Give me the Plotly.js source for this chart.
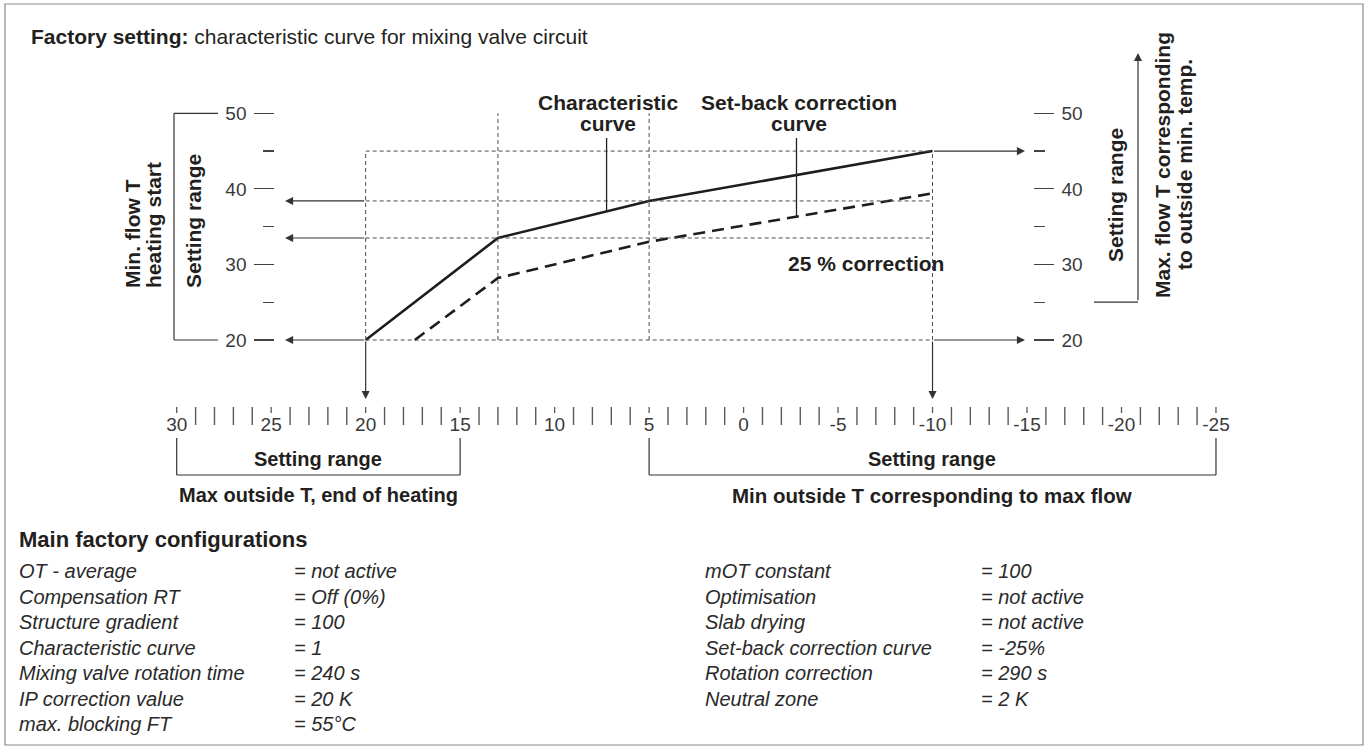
<!DOCTYPE html>
<html><head><meta charset="utf-8">
<script src="https://cdn.plot.ly/plotly-3.0.1.min.js"></script>
<style>html,body{margin:0;padding:0;background:#fff;}#chart{width:1369px;height:746px;}</style>
</head><body><div id="chart"></div>
<script>
// ---------------- data ----------------
const outsideTemp = [20, 13, 5, -10];              // characteristic curve break points (outside T)
const flowCharacteristic = [20, 33.5, 38.4, 45];    // flow T of characteristic curve
const outsideTempSetback = [17.4, 13, 5, -10];
const flowSetback = [20, 28.2, 33.0, 39.4];         // set-back correction curve (25 %)
const flowTicks = [20, 30, 40, 50];
const flowTickLabels = ['20', '30', '40', '50'];
const flowMinorTicks = [25, 35, 45];
const rulerTicks = [30, 25, 20, 15, 10, 5, 0, -5, -10, -15, -20, -25];
const rulerTickLabels = ['30', '25', '20', '15', '10', '5', '0', '-5', '-10', '-15', '-20', '-25'];
const maxOutsideRange = [30, 15];
const minOutsideRange = [5, -25];
const minFlowRange = [20, 50];
const maxFlowRangeStart = 25;
const charPointerT = 7.25;
const setbackPointerT = -2.8;
const configLeftLabels = ['OT - average', 'Compensation RT', 'Structure gradient', 'Characteristic curve', 'Mixing valve rotation time', 'IP correction value', 'max. blocking FT'];
const configLeftValues = ['= not active', '= Off (0%)', '= 100', '= 1', '= 240 s', '= 20 K', '= 55°C'];
const configRightLabels = ['mOT constant', 'Optimisation', 'Slab drying', 'Set-back correction curve', 'Rotation correction', 'Neutral zone'];
const configRightValues = ['= 100', '= not active', '= not active', '= -25%', '= 290 s', '= 2 K'];

// ---------------- layout geometry (pixels) ----------------
const W = 1369, H = 746;
const L = 150, R = 1240, TOP = 20, BOT = 407;
const X30 = 176.7, PXDEG = 18.896;      // ruler scale
const Y20 = 340, PYDEG = 7.557;          // flow scale
const xr0 = 30 + (X30 - L) / PXDEG;
const xr1 = 30 - (R - X30) / PXDEG;
const yr0 = 20 - (BOT - Y20) / PYDEG;
const yr1 = 20 + (Y20 - TOP) / PYDEG;
const px = X => (X - L) / (R - L);
const py = Y => (BOT - Y) / (BOT - TOP);
const tAt = X => xr0 + (X - L) * (xr1 - xr0) / (R - L);
const fAt = Y => yr1 - (Y - TOP) * (yr1 - yr0) / (BOT - TOP);

const FONT = 'Liberation Sans, Arial, Helvetica, sans-serif';
const INK = '#231f20';

function interp(xs, ys, x) {
  for (let i = 0; i < xs.length - 1; i++) {
    const a = xs[i], b = xs[i + 1];
    if ((x <= a && x >= b) || (x >= a && x <= b)) {
      return ys[i] + (ys[i + 1] - ys[i]) * (x - a) / (b - a);
    }
  }
  return ys[ys.length - 1];
}

// guide (dashed) lines built from the curve points
const tS = outsideTemp[0], tK = outsideTemp[1], tM = outsideTemp[2], tE = outsideTemp[3];
const fTop = flowTicks[flowTicks.length - 1];
const gx = [], gy = [];
flowCharacteristic.forEach(f => { gx.push(tS, tE, null); gy.push(f, f, null); });
[[tS, flowCharacteristic[3]], [tK, fTop], [tM, fTop], [tE, flowCharacteristic[3]]].forEach(([t, f]) => {
  gx.push(t, t, null); gy.push(flowCharacteristic[0], f, null);
});

const traces = [
  { x: gx, y: gy, yaxis: 'y2', mode: 'lines', line: { color: '#4d4d4d', width: 1, dash: '4px,3px' }, hoverinfo: 'skip', showlegend: false },
  { x: outsideTempSetback, y: flowSetback, mode: 'lines', line: { color: '#1d1d1b', width: 2.6, dash: '12px,7px' }, showlegend: false },
  { x: outsideTemp, y: flowCharacteristic, mode: 'lines', line: { color: '#1d1d1b', width: 2.6 }, showlegend: false }
];

const shapes = [];
const ln = (x0, y0, x1, y1, xref, yref, w, c) => shapes.push({ type: 'line', x0, y0, x1, y1, xref, yref, line: { color: c || '#333', width: w || 1.2 } });
// ruler: short ticks at labelled values, tall ticks every other degree
for (let t = rulerTicks[0]; t >= rulerTicks[rulerTicks.length - 1]; t--) {
  if (t % 5 !== 0) ln(t, py(407), t, py(425), 'x', 'paper', 1.4, '#5a5a5a');
  else ln(t, py(407), t, py(413), 'x', 'paper', 1.3, '#5a5a5a');
}
// outer frame
shapes.push({ type: 'rect', xref: 'paper', yref: 'paper', x0: px(5), x1: px(1363), y0: py(4), y1: py(745), line: { color: '#8a8a8a', width: 1.2 } });
// left bracket (min flow setting range)
ln(px(218), minFlowRange[1], px(174), minFlowRange[1], 'paper', 'y');
ln(px(174), minFlowRange[1], px(174), minFlowRange[0], 'paper', 'y');
ln(px(174), minFlowRange[0], px(218), minFlowRange[0], 'paper', 'y');
// right bracket base
ln(px(1094), maxFlowRangeStart, px(1138), maxFlowRangeStart, 'paper', 'y');
// bottom brackets
[maxOutsideRange, minOutsideRange].forEach(([a, b]) => {
  ln(a, py(438), a, py(475), 'x', 'paper');
  ln(b, py(438), b, py(475), 'x', 'paper');
  ln(a, py(475), b, py(475), 'x', 'paper');
});
// pointer lines
ln(charPointerT, interp(outsideTemp, flowCharacteristic, charPointerT), charPointerT, fAt(138), 'x', 'y', 1.3, '#222');
ln(setbackPointerT, interp(outsideTempSetback, flowSetback, setbackPointerT), setbackPointerT, fAt(138), 'x', 'y', 1.3, '#222');

const ann = [];
const arrow = (hx, hy, tx, ty) => ann.push({ x: hx, y: hy, ax: tx, ay: ty, xref: 'x', yref: 'y', axref: 'x', ayref: 'y', text: '', showarrow: true, arrowhead: 2, arrowsize: 1.35, arrowwidth: 1.2, arrowcolor: '#333', standoff: 0, startstandoff: 0 });
[flowCharacteristic[2], flowCharacteristic[1], flowCharacteristic[0]].forEach(f => arrow(tAt(285), f, tS, f));
[flowCharacteristic[3], flowCharacteristic[0]].forEach(f => arrow(tAt(1025), f, tE, f));
[tS, tE].forEach(t => arrow(t, fAt(399), t, flowCharacteristic[0]));
// right bracket arrow up
ann.push({ x: px(1138), y: py(53), xref: 'paper', yref: 'paper', ax: 0, ay: 301.7 - 53, text: '', showarrow: true, arrowhead: 2, arrowsize: 1.35, arrowwidth: 1.2, arrowcolor: '#333', standoff: 0 });

const txt = (text, X, Y, opts) => ann.push(Object.assign({ text, x: px(X), y: py(Y), xref: 'paper', yref: 'paper', showarrow: false, xanchor: 'center', yanchor: 'middle', font: { family: FONT, size: 21, color: INK } }, opts || {}));
const B = s => '<b>' + s + '</b>';

txt(B('Factory setting:') + ' characteristic curve for mixing valve circuit', 29, 36, { xanchor: 'left', font: { family: FONT, size: 21, color: INK } });
txt(B('Min. flow T'), 132.5, 290, { textangle: -90, yanchor: 'bottom' });
txt(B('heating start'), 153, 290, { textangle: -90, yanchor: 'bottom' });
txt(B('Setting range'), 193, 290, { textangle: -90, yanchor: 'bottom' });
txt(B('Characteristic'), 608, 103);
txt(B('curve'), 608, 124);
txt(B('Set-back correction'), 799, 103);
txt(B('curve'), 799, 124);
txt(B('25 % correction'), 866, 263);
txt(B('Setting range'), 1115, 195, { textangle: -90 });
txt(B('Max. flow T corresponding'), 1163, 165, { textangle: -90 });
txt(B('to outside min. temp.'), 1185, 165, { textangle: -90 });
txt(B('Setting range'), 318, 459, { font: { family: FONT, size: 20, color: INK } });
txt(B('Setting range'), 932, 459, { font: { family: FONT, size: 20, color: INK } });
txt(B('Max outside T, end of heating'), 318, 495, { font: { family: FONT, size: 20, color: INK } });
txt(B('Min outside T corresponding to max flow'), 932, 495, { font: { family: FONT, size: 20.5, color: INK } });
txt(B('Main factory configurations'), 17, 539, { xanchor: 'left', font: { family: FONT, size: 22, color: INK } });
const ROW0 = 571, ROWH = 25.5;
const listFont = { family: FONT, size: 20, color: '#2a2a2a' };
configLeftLabels.forEach((s, i) => txt('<i>' + s + '</i>', 17, ROW0 + i * ROWH, { xanchor: 'left', font: listFont }));
configLeftValues.forEach((s, i) => txt('<i>' + s + '</i>', 292, ROW0 + i * ROWH, { xanchor: 'left', font: listFont }));
configRightLabels.forEach((s, i) => txt('<i>' + s + '</i>', 703, ROW0 + i * ROWH, { xanchor: 'left', font: listFont }));
configRightValues.forEach((s, i) => txt('<i>' + s + '</i>', 979, ROW0 + i * ROWH, { xanchor: 'left', font: listFont }));

const yAxisCommon = {
  range: [yr0, yr1], anchor: 'free', showgrid: false, zeroline: false, showline: false,
  tickmode: 'array', tickvals: flowTicks, ticktext: flowTickLabels, ticks: 'outside', ticklen: 20, tickwidth: 1.2, tickcolor: '#444',
  ticklabelstandoff: 4,
  minor: { tickmode: 'array', tickvals: flowMinorTicks, ticks: 'outside', ticklen: 11, tickwidth: 1.2, tickcolor: '#444' },
  tickfont: { family: FONT, size: 19, color: '#3a3a3a' }, fixedrange: true
};

const layout = {
  width: W, height: H, margin: { l: L, r: W - R, t: TOP, b: H - BOT, pad: 0 },
  paper_bgcolor: '#fff', plot_bgcolor: 'rgba(0,0,0,0)', showlegend: false,
  xaxis: {
    range: [xr0, xr1], showgrid: false, zeroline: false, showline: false,
    tickmode: 'array', tickvals: rulerTicks, ticktext: rulerTickLabels, ticks: '', ticklabelstandoff: 4,
    tickfont: { family: FONT, size: 19, color: '#3a3a3a' }, fixedrange: true
  },
  yaxis: Object.assign({}, yAxisCommon, { side: 'left', position: px(274.3) }),
  yaxis2: Object.assign({}, yAxisCommon, { side: 'right', overlaying: 'y', position: px(1032.7) }),
  shapes, annotations: ann
};

Plotly.newPlot('chart', traces, layout, { displayModeBar: false, staticPlot: true });
</script></body></html>
